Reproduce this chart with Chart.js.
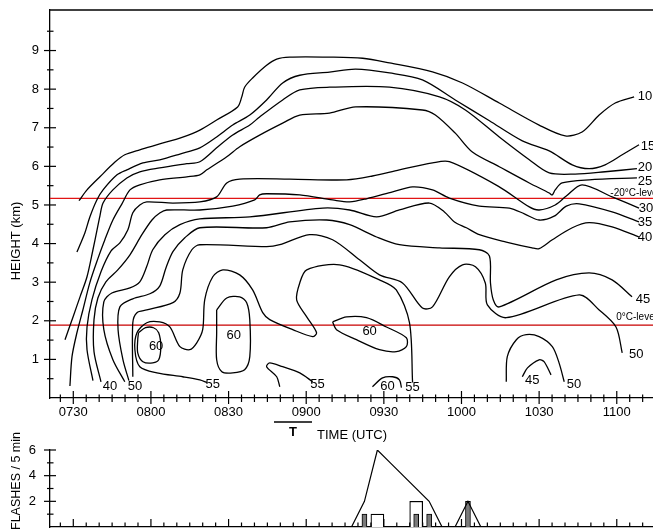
<!DOCTYPE html>
<html>
<head>
<meta charset="utf-8">
<script src="https://cdn.jsdelivr.net/npm/chart.js@4.4.1/dist/chart.umd.min.js"></script>
<style>
  html, body { margin:0; padding:0; background:#fff; }
  #wrap    { position:relative; width:653px; height:529px; overflow:hidden; }
  #box_top { position:absolute; left:0; top:0;     width:653px; height:445px; }
  #box_bot { position:absolute; left:0; top:425px; width:653px; height:104px; }
</style>
</head>
<body>
<div id="wrap">
  <div id="box_top"><canvas id="graph_top"></canvas></div>
  <div id="box_bot"><canvas id="graph_bot"></canvas></div>
</div>
<script>
var CHART_TOP = null;
var CHART_BOT = null;

// time axis (minutes after 00 UTC)
const x_min = 441;
const x_max = 674;
const time_major  = [450, 480, 510, 540, 570, 600, 630, 660];
const time_labels = ["0730", "0800", "0830", "0900", "0930", "1000", "1030", "1100"];
const height_ticks = [1, 2, 3, 4, 5, 6, 7, 8, 9];
const flash_ticks  = [2, 4, 6];

// isotherm heights (km)
const iso_height = [5.17, 1.89];
const iso_text   = ["-20°C-level", "0°C-level"];
const iso_at     = [[657.5, 5.31], [659.8, 2.08]];

// reflectivity contours [time, height]
const dbz10 = [[452.2,5.11],[455.3,5.39],[460.3,5.73],[466.1,6.11],[469.9,6.30],[475.7,6.43],[483.4,6.58],[492.3,6.76],[498.9,6.94],[505.4,7.20],[513.5,7.54],[515.1,7.80],[516.2,8.05],[519.3,8.29],[524.7,8.62],[528.6,8.78],[533.6,8.83],[549.0,8.83],[561.8,8.80],[572.2,8.68],[588.8,8.45],[600.4,8.16],[614.6,7.64],[630.0,7.07],[640.1,6.79],[646.6,6.89],[653.2,7.33],[659.4,7.64],[666.7,7.80]];
const dbz15 = [[451.4,3.78],[452.6,3.97],[454.5,4.28],[456.4,4.69],[459.1,5.13],[461.5,5.39],[466.9,5.78],[470.7,5.91],[476.9,6.09],[483.4,6.17],[491.2,6.32],[498.9,6.48],[505.4,6.76],[511.6,7.07],[518.2,7.33],[524.7,7.72],[530.9,8.16],[537.5,8.36],[549.0,8.44],[559.1,8.52],[572.2,8.42],[584.9,8.24],[597.6,7.72],[610.8,7.18],[623.5,6.66],[633.9,6.40],[642.8,6.04],[649.3,5.94],[655.5,6.04],[662.1,6.30],[668.6,6.56]];
const dbz20 = [[446.8,1.51],[449.9,2.10],[452.6,2.62],[455.3,3.14],[457.6,3.84],[459.1,4.33],[460.3,4.72],[461.5,5.05],[465.3,5.39],[470.7,5.70],[475.7,5.86],[483.4,5.96],[493.9,6.07],[498.9,6.12],[505.4,6.48],[511.6,6.81],[518.2,7.07],[522.0,7.28],[530.9,7.72],[537.5,7.98],[549.0,8.05],[572.2,8.05],[591.5,7.80],[601.5,7.46],[614.6,6.76],[626.2,6.17],[633.9,5.83],[643.9,5.80],[655.5,5.86],[667.8,5.94]];
const dbz25 = [[448.7,0.31],[449.5,1.07],[451.4,1.69],[453.7,2.28],[456.4,2.99],[459.5,3.61],[462.2,4.10],[465.3,4.61],[468.8,5.03],[471.9,5.39],[475.7,5.52],[483.4,5.65],[493.9,5.73],[498.9,5.78],[501.6,5.91],[509.3,6.25],[514.3,6.51],[522.0,6.81],[530.9,7.12],[537.5,7.33],[549.0,7.38],[559.1,7.54],[584.9,7.46],[589.9,7.33],[597.6,6.86],[604.2,6.37],[614.6,5.99],[626.2,5.57],[633.9,5.31],[635.1,5.26],[636.2,5.39],[638.9,5.57],[649.3,5.65],[667.8,5.70]];
const dbz30 = [[457.6,0.45],[455.3,1.25],[455.3,1.84],[457.2,2.54],[460.7,3.27],[464.6,3.81],[468.0,4.02],[471.1,4.36],[473.0,4.80],[475.7,5.00],[478.4,5.08],[488.5,5.05],[498.9,5.08],[505.4,5.21],[509.3,5.57],[514.3,5.67],[533.6,5.67],[555.6,5.65],[565.6,5.75],[576.0,5.91],[588.8,6.09],[595.3,6.12],[614.6,5.47],[626.2,4.95],[630.0,4.87],[636.2,5.00],[640.5,5.23],[646.6,5.52],[658.2,5.21],[668.6,4.92]];
const dbz35 = [[460.7,0.42],[458.0,1.20],[458.0,2.03],[459.5,2.59],[462.6,3.01],[467.2,3.32],[471.9,3.71],[476.5,4.23],[480.4,4.61],[483.4,4.79],[486.1,4.87],[498.9,4.87],[511.6,4.97],[520.1,5.13],[522.0,5.26],[524.7,5.29],[537.5,5.26],[550.2,5.13],[556.8,5.08],[563.3,5.16],[573.4,5.34],[581.1,5.47],[588.8,5.39],[595.3,5.18],[606.9,4.97],[618.5,4.92],[624.3,4.77],[630.0,4.61],[635.8,4.71],[640.5,4.97],[645.5,5.03],[658.2,4.82],[668.6,4.56]];
const dbz40 = [[469.9,0.42],[465.3,0.99],[461.8,1.77],[461.8,2.49],[464.9,2.72],[471.9,2.85],[475.7,3.01],[478.4,3.41],[480.7,3.84],[485.4,4.23],[491.2,4.49],[498.9,4.64],[518.2,4.69],[546.4,4.92],[556.8,4.87],[567.2,4.69],[576.0,4.87],[587.6,5.05],[593.4,4.82],[597.3,4.56],[601.9,4.41],[606.9,4.23],[617.3,4.04],[627.3,3.89],[630.0,3.87],[635.1,4.10],[642.8,4.41],[649.3,4.54],[658.2,4.43],[668.6,4.17]];
const dbz45 = [[471.5,0.45],[469.2,0.99],[467.3,1.77],[468.0,2.36],[473.0,2.57],[479.6,2.70],[483.4,2.90],[485.8,3.37],[488.5,3.79],[493.1,4.15],[498.9,4.41],[524.7,4.41],[533.6,4.56],[547.9,4.61],[556.8,4.49],[567.2,4.17],[576.0,3.97],[591.5,3.89],[606.9,3.84],[610.8,3.68],[611.2,2.98],[612.3,2.54],[614.6,2.36],[636.6,3.06],[649.3,3.24],[658.2,3.06],[665.9,2.62]];
const dbz50 = [[473.0,0.55],[473.0,1.95],[474.6,2.21],[478.4,2.28],[488.5,2.47],[491.2,2.72],[492.3,3.32],[495.8,3.84],[498.9,3.97],[524.7,3.92],[529.8,3.97],[541.3,4.23],[550.2,4.10],[560.6,3.58],[568.3,3.19],[577.2,2.98],[584.9,2.33],[588.8,2.36],[595.3,3.14],[600.4,3.45],[605.4,3.40],[609.2,2.98],[610.0,2.41],[617.3,2.08],[645.5,2.67],[653.2,2.28],[659.7,1.84],[662.1,1.17]];
const dbz55 = [[501.6,0.40],[498.9,0.47],[492.3,0.55],[482.3,0.65],[475.7,0.81],[473.8,1.25],[474.6,1.69],[478.4,1.95],[483.4,1.97],[487.3,1.84],[491.2,1.33],[495.0,1.25],[497.7,1.43],[500.0,1.77],[500.8,2.55],[503.9,3.14],[507.8,3.32],[514.3,3.19],[519.3,2.80],[523.2,2.21],[525.9,2.03],[534.8,1.77],[542.5,1.59],[544.0,1.69],[540.2,2.10],[536.3,2.54],[537.5,2.98],[540.2,3.32],[552.9,3.45],[568.3,3.06],[574.8,2.80],[579.9,1.95],[581.1,0.40]];
const dbz55b = [[529.8,0.29],[528.6,0.55],[524.7,0.81],[525.9,0.91],[530.9,0.81],[537.5,0.65],[542.5,0.42]];
const dbz60a = [[475.2,1.69],[477.9,1.82],[481.0,1.82],[483.0,1.69],[483.8,1.33],[483.0,0.99],[480.7,0.91],[476.9,0.94],[474.9,1.17],[474.9,1.51],[475.2,1.69]];
const dbz60b = [[505.4,2.28],[509.3,2.59],[514.3,2.62],[517.0,2.47],[518.2,2.03],[518.2,1.07],[516.2,0.73],[511.6,0.65],[507.4,0.68],[505.4,0.99],[505.4,1.69],[505.4,2.28]];
const dbz60c = [[550.2,1.97],[555.6,2.10],[563.3,2.08],[571.0,1.84],[578.7,1.56],[578.7,1.33],[574.8,1.20],[568.3,1.25],[559.4,1.51],[551.7,1.77],[550.2,1.97]];
const dbz60d = [[565.6,0.29],[569.5,0.52],[573.4,0.55],[576.0,0.47],[576.8,0.27]];
const dbz50b = [[617.3,0.42],[617.7,1.07],[621.2,1.51],[625.0,1.64],[630.0,1.59],[635.1,1.33],[637.7,0.91],[639.7,0.42]];
const dbz45b = [[623.5,0.55],[625.5,0.78],[630.0,0.99],[631.9,0.94],[634.6,0.60]];

// contour labels
const edge_text = ["10", "15", "20", "25", "30", "35", "40", "45", "50"];
const edge_at   = [[668.1,7.80],[669.3,6.52],[668.1,5.96],[668.1,5.62],[668.5,4.92],[668.1,4.56],[668.1,4.15],[667.3,2.55],[664.7,1.12]];
const inner_text = ["40", "50", "60", "60", "55", "55", "60", "60", "55", "45", "50"];
const inner_at   = [[464.2,0.29],[473.8,0.31],[482.0,1.33],[512.0,1.61],[503.9,0.34],[544.4,0.34],[564.5,1.72],[571.4,0.31],[581.1,0.27],[627.3,0.45],[643.5,0.34]];

// flashes per 5 min
const flash_time  = [557.5, 562.5, 567.5, 572.5, 587.5, 592.5, 597.5, 602.5, 607.5];
const flash_total = [0, 2, 6, 5, 2, 0, 0, 2, 0];
const open_time   = [567.5, 582.5];
const open_count  = [1, 2];
const gray_time   = [562.5, 582.5, 587.5, 602.5];
const gray_count  = [1, 1, 1, 2];

const FONT = '"Liberation Sans", Arial, Helvetica, sans-serif';

function xy(arr){
    return arr.map(function(p){ return {x: p[0], y: p[1]}; });
}
function pair(xs, ys){
    return xs.map(function(v, i){ return {x: v, y: ys[i]}; });
}
//軸の大きさを固定し、ラベル分の余白を消す
function fix_width(w){
    return function(s){ s.width = w; s.paddingTop = 0; s.paddingBottom = 0; };
}
function fix_height(h){
    return function(s){ s.height = h; s.paddingLeft = 0; s.paddingRight = 0; };
}

// ticks, frame and text for the upper panel
const top_deco = {
    id: "top_deco",
    afterDraw(chart){
        let ctx  = chart.ctx;
        let xs   = chart.scales.x;
        let ys   = chart.scales.y;
        let area = chart.chartArea;
        ctx.save();
        ctx.strokeStyle = "#000";
        ctx.lineWidth = 1.3;
        ctx.beginPath();
        ctx.moveTo(area.left, area.top);
        ctx.lineTo(area.right + 2, area.top);
        ctx.stroke();

        ctx.lineWidth = 1.2;
        for (let t = 445; t <= 670; t += 5){
            let px  = xs.getPixelForValue(t);
            let big = (t % 30 === 0);
            ctx.beginPath();
            ctx.moveTo(px, area.bottom - (big ? 7 : 3.5));
            ctx.lineTo(px, area.bottom + (big ? 6 : 4));
            ctx.stroke();
        }
        for (let v = 0.5; v <= 9.5; v += 0.5){
            let py  = ys.getPixelForValue(v);
            let big = (v % 1 === 0);
            ctx.beginPath();
            ctx.moveTo(area.left - (big ? 6 : 3), py);
            ctx.lineTo(area.left + (big ? 6 : 3.5), py);
            ctx.stroke();
        }

        ctx.fillStyle = "#000";
        ctx.textBaseline = "middle";
        ctx.font = "13px " + FONT;
        ctx.textAlign = "left";
        for (let i = 0; i < edge_text.length; i++){
            ctx.fillText(edge_text[i], xs.getPixelForValue(edge_at[i][0]), ys.getPixelForValue(edge_at[i][1]));
        }
        ctx.textAlign = "center";
        for (let i = 0; i < inner_text.length; i++){
            ctx.fillText(inner_text[i], xs.getPixelForValue(inner_at[i][0]), ys.getPixelForValue(inner_at[i][1]));
        }
        ctx.font = "10px " + FONT;
        ctx.textAlign = "left";
        for (let i = 0; i < iso_text.length; i++){
            ctx.fillText(iso_text[i], xs.getPixelForValue(iso_at[i][0]), ys.getPixelForValue(iso_at[i][1]));
        }

        // axis titles
        ctx.font = "13px " + FONT;
        ctx.textAlign = "left";
        ctx.fillText("TIME (UTC)", 317, 435);
        ctx.font = "bold 13px " + FONT;
        ctx.textAlign = "center";
        ctx.fillText("T", 293, 432);
        ctx.lineWidth = 1.3;
        ctx.beginPath();
        ctx.moveTo(274, 422);
        ctx.lineTo(312, 422);
        ctx.stroke();

        ctx.font = "13px " + FONT;
        ctx.translate(16, 241);
        ctx.rotate(-Math.PI / 2);
        ctx.fillText("HEIGHT (km)", 0, 0);
        ctx.restore();
    }
};

const bot_deco = {
    id: "bot_deco",
    afterDraw(chart){
        let ctx  = chart.ctx;
        let xs   = chart.scales.x;
        let ys   = chart.scales.y;
        let area = chart.chartArea;
        ctx.save();
        ctx.strokeStyle = "#000";
        ctx.lineWidth = 1.2;
        for (let t = 445; t <= 670; t += 5){
            let px  = xs.getPixelForValue(t);
            let big = (t % 30 === 0);
            ctx.beginPath();
            ctx.moveTo(px, area.bottom);
            ctx.lineTo(px, area.bottom - (big ? 8 : 4.5));
            ctx.stroke();
        }
        for (let v = 1; v <= 6; v += 1){
            let py  = ys.getPixelForValue(v);
            let big = (v % 2 === 0);
            ctx.beginPath();
            ctx.moveTo(area.left - (big ? 6 : 3), py);
            ctx.lineTo(area.left + (big ? 6 : 3.5), py);
            ctx.stroke();
        }
        ctx.fillStyle = "#000";
        ctx.font = "12.5px " + FONT;
        ctx.textAlign = "center";
        ctx.textBaseline = "middle";
        ctx.translate(17, 56);
        ctx.rotate(-Math.PI / 2);
        ctx.fillText("FLASHES / 5 min", 0, 0);
        ctx.restore();
    }
};

function contour_set(){
    let list = [dbz10, dbz15, dbz20, dbz25, dbz30, dbz35, dbz40, dbz45, dbz50,
                dbz55, dbz55b, dbz60a, dbz60b, dbz60c, dbz60d, dbz50b, dbz45b];
    let out = list.map(function(c){
        return {
            data: xy(c),
            borderColor: "#000",
            borderWidth: 1.3,
            pointRadius: 0,
            tension: 0.3,
            fill: false
        };
    });
    // isotherm lines
    let red = ["rgb(225,20,20)", "rgb(200,0,0)"];
    for (let i = 0; i < iso_height.length; i++){
        out.push({
            data: [{x: x_min, y: iso_height[i]}, {x: x_max, y: iso_height[i]}],
            borderColor: red[i],
            borderWidth: 1.3,
            pointRadius: 0,
            tension: 0
        });
    }
    return out;
}

function draw_top(){
    let ctx = document.getElementById("graph_top");
    if (CHART_TOP) { CHART_TOP.destroy(); }
    CHART_TOP = new Chart(ctx, {
        type: "line",
        data: { datasets: contour_set() },
        options: {
            responsive: true,
            maintainAspectRatio: false,
            animation: false,
            layout: { padding: { top: 10, left: 0, right: 0, bottom: 0 } },
            plugins: { legend: { display: false }, tooltip: { enabled: false } },
            scales: {
                x: {
                    type: "linear",
                    min: x_min, max: x_max,
                    grid: { display: false, drawTicks: false },
                    border: { display: true, color: "#000", width: 1.3 },
                    afterBuildTicks: function(s){ s.ticks = time_major.map(function(v){ return {value: v}; }); },
                    afterFit: fix_height(47),
                    ticks: {
                        autoSkip: false, maxRotation: 0, padding: 7,
                        color: "#000", font: { family: FONT, size: 13 },
                        callback: function(v, i){ return time_labels[i]; }
                    }
                },
                y: {
                    type: "linear",
                    min: 0, max: 10.05,
                    grid: { display: false, drawTicks: false },
                    border: { display: true, color: "#000", width: 1.3 },
                    afterBuildTicks: function(s){ s.ticks = height_ticks.map(function(v){ return {value: v}; }); },
                    afterFit: fix_width(50),
                    ticks: {
                        padding: 11, color: "#000", font: { family: FONT, size: 13 },
                        callback: function(v){ return String(v); }
                    }
                }
            }
        },
        plugins: [top_deco]
    });
}

function draw_bot(){
    let ctx = document.getElementById("graph_bot");
    if (CHART_BOT) { CHART_BOT.destroy(); }
    CHART_BOT = new Chart(ctx, {
        type: "bar",
        data: {
            datasets: [
                {
                    type: "line",
                    data: pair(flash_time, flash_total),
                    borderColor: "#000",
                    borderWidth: 1.2,
                    pointRadius: 0,
                    tension: 0,
                    order: 0
                },
                {
                    data: pair(gray_time, gray_count),
                    backgroundColor: "#7a7a7a",
                    borderColor: "#000",
                    borderWidth: 1,
                    barThickness: 5,
                    grouped: false,
                    order: 1
                },
                {
                    data: pair(open_time, open_count),
                    backgroundColor: "#fff",
                    borderColor: "#000",
                    borderWidth: 1.2,
                    barThickness: 13,
                    grouped: false,
                    order: 2
                }
            ]
        },
        options: {
            responsive: true,
            maintainAspectRatio: false,
            animation: false,
            layout: { padding: { top: 25, left: 0, right: 0, bottom: 0 } },
            plugins: { legend: { display: false }, tooltip: { enabled: false } },
            scales: {
                x: {
                    type: "linear",
                    min: x_min, max: x_max,
                    offset: false,
                    grid: { display: false, drawTicks: false },
                    border: { display: true, color: "#000", width: 1.3 },
                    ticks: { display: false },
                    afterFit: fix_height(2)
                },
                y: {
                    type: "linear",
                    min: 0, max: 6,
                    grid: { display: false, drawTicks: false },
                    border: { display: true, color: "#000", width: 1.3 },
                    afterBuildTicks: function(s){ s.ticks = flash_ticks.map(function(v){ return {value: v}; }); },
                    afterFit: fix_width(50),
                    ticks: {
                        padding: 14, color: "#000", font: { family: FONT, size: 13 },
                        callback: function(v){ return String(v); }
                    }
                }
            }
        },
        plugins: [bot_deco]
    });
}

window.addEventListener("load", function(){
    draw_top();
    draw_bot();
});
</script>
</body>
</html>
